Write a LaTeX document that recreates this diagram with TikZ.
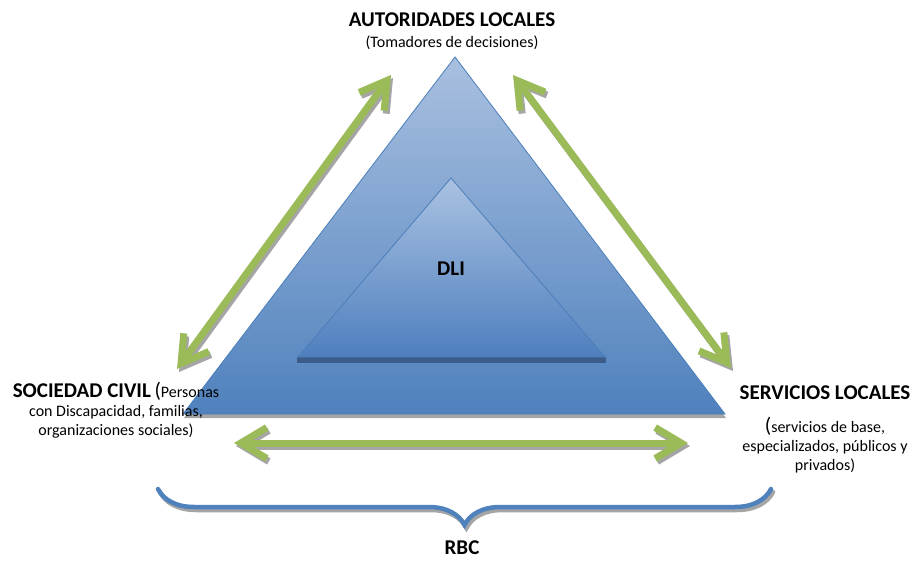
\documentclass[tikz,border=0pt]{standalone}
\usepackage{fontspec}
\setmainfont{Carlito}
\usetikzlibrary{arrows.meta,decorations.pathreplacing,positioning}
\definecolor{arrowgreen}{HTML}{9BBB59}
\definecolor{braceblue}{HTML}{4F81BD}
\definecolor{shadowgray}{HTML}{A5A5A5}
\definecolor{triedge}{HTML}{4A7EBB}
\definecolor{tritop}{HTML}{A9C0E0}
\definecolor{tribottom}{HTML}{4F81BD}
\definecolor{innertop}{HTML}{AAC2E2}
\definecolor{innerbottom}{HTML}{4E7FBE}
\definecolor{innershadow}{HTML}{3C5D89}
\newcommand{\bigb}[1]{{\fontsize{21}{24}\selectfont\bfseries #1}}

\begin{document}
\begin{tikzpicture}[x=1pt, y=-1pt,
    lbl/.style={align=center, font=\fontsize{16}{19}\selectfont, inner sep=0pt},
    dblarrow/.style={line width=7pt, color=arrowgreen,
        {Straight Barb[length=26pt,width=31pt]}-{Straight Barb[length=26pt,width=31pt]}},
    shadowed/.style={color=shadowgray, transform canvas={shift={(2,3)}}},
    bracepath/.style={decorate, decoration={brace, mirror, amplitude=36pt},
        line width=4.5pt, color=braceblue, line cap=round}
]
    \useasboundingbox (0,0) rectangle (915,561);

    \coordinate (apex) at (455,57);
    \coordinate (bl) at (183,414);
    \coordinate (br) at (725,414);
    \coordinate (iapex) at (451,178);
    \coordinate (ibl) at (298,357);
    \coordinate (ibr) at (605,357);

    \fill[shadowgray, transform canvas={shift={(1,4)}}] (apex) -- (bl) -- (br) -- cycle;
    \shadedraw[top color=tritop, bottom color=tribottom, draw=triedge, line width=0.8pt] (apex) -- (bl) -- (br) -- cycle;
    \fill[innershadow] (297,357) -- (606,357) -- (606,363) -- (297,363) -- cycle;
    \shadedraw[top color=innertop, bottom color=innerbottom, draw=triedge, line width=0.8pt] (iapex) -- (ibl) -- (ibr) -- cycle;

    \node[lbl] (autoridades) at (452,31) {\bigb{AUTORIDADES LOCALES}\\[2pt](Tomadores de decisiones)};
    \node (dli) at (451,269) {\bigb{DLI}};
    \node[lbl] (civil) at (116,410) {\bigb{SOCIEDAD CIVIL} {\fontsize{21}{24}\selectfont(}Personas\\con Discapacidad, familias,\\organizaciones sociales)};
    \node[lbl] (servicios) at (825,429) {\bigb{SERVICIOS LOCALES}\\[14pt]{\fontsize{21}{24}\selectfont(}servicios de base,\\especializados, públicos y\\privados)};
    \node (rbc) at (462,548) {\bigb{RBC}};

    \coordinate (civilUp) at (391,75);
    \coordinate (civilDown) at (177,369);
    \coordinate (servUp) at (513,75);
    \coordinate (servDown) at (731,368);
    \coordinate (baseL) at (234,443);
    \coordinate (baseR) at (688,443);
    \coordinate (braceL) at (158,489);
    \coordinate (braceR) at (771,489);

    \draw[dblarrow, shadowed] (civilDown) -- (civilUp);
    \draw[dblarrow, shadowed] (servUp) -- (servDown);
    \draw[dblarrow, shadowed] (baseL) -- (baseR);
    \draw[dblarrow] (civilDown) -- (civilUp);
    \draw[dblarrow] (servUp) -- (servDown);
    \draw[dblarrow] (baseL) -- (baseR);

    \draw[bracepath, shadowed] (braceL) -- (braceR);
    \draw[bracepath] (braceL) -- (braceR);
\end{tikzpicture}
\end{document}
